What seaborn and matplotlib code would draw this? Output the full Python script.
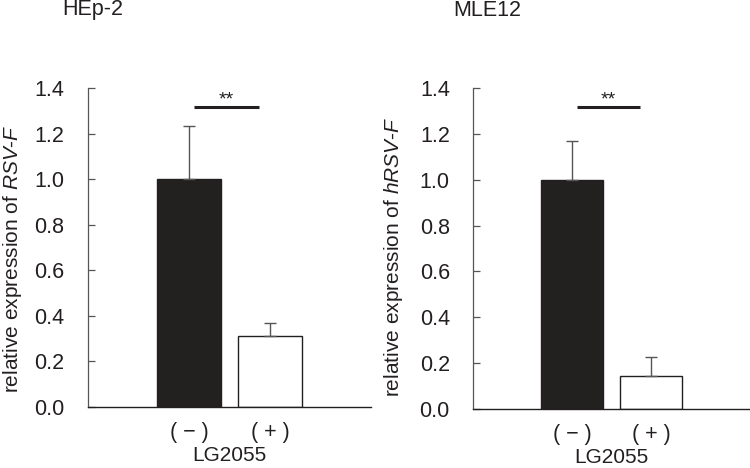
import matplotlib
matplotlib.use("Agg")
import matplotlib.pyplot as plt
import seaborn as sns

# data
groups = ["( − )", "( + )"]
hep2_mean = [1.00, 0.313]
hep2_err = [0.233, 0.054]
mle12_mean = [1.00, 0.143]
mle12_err = [0.170, 0.085]
sig_y = 1.317
yticks = [0.0, 0.2, 0.4, 0.6, 0.8, 1.0, 1.2, 1.4]

sns.set_style("white")
plt.rcParams["font.family"] = ["Liberation Sans", "DejaVu Sans"]
plt.rcParams["mathtext.fontset"] = "custom"
plt.rcParams["mathtext.it"] = "Liberation Sans:italic"
plt.rcParams["mathtext.rm"] = "Liberation Sans"

ink = "#231f20"
fs = 15.5
fig = plt.figure(figsize=(7.5, 4.68), dpi=100)
ax1 = fig.add_axes([0.1173, 0.1303, 0.3774, 0.6817])
ax2 = fig.add_axes([0.6313, 0.126, 0.3687, 0.686])


def panel(ax, means, errs, ylab, lab_xy):
    sns.barplot(x=groups, y=means, hue=groups, palette=[ink, "white"],
                edgecolor=ink, linewidth=1.0, width=0.79, legend=False, ax=ax)
    ax.errorbar([0, 1], means, yerr=[[0, 0], errs], fmt="none",
                ecolor="#555555", elinewidth=1.0, capsize=4, capthick=1.0)
    ax.set_xlim(-1.25, 2.25)
    ax.set_ylim(0, 1.4)
    ax.set_yticks(yticks)
    ax.set_yticklabels([f"{v:.1f}" for v in yticks])
    ax.tick_params(axis="y", direction="in", length=5, width=0.9,
                   color="#555555", labelsize=fs, labelcolor=ink, pad=17, left=True)
    ax.tick_params(axis="x", length=0, labelsize=fs, labelcolor=ink, pad=11)
    for s in ["top", "right"]:
        ax.spines[s].set_visible(False)
    ax.spines["left"].set_color("#555555")
    ax.spines["left"].set_linewidth(0.9)
    ax.spines["bottom"].set_color(ink)
    ax.spines["bottom"].set_linewidth(1.0)
    ax.set_ylabel(ylab, fontsize=15, color=ink, va="center")
    ax.yaxis.set_label_coords(*lab_xy)
    ax.set_xlabel("LG2055", fontsize=15, color=ink, labelpad=2)
    ax.plot([0.06, 0.86], [sig_y, sig_y], color=ink, lw=2.2, solid_capstyle="butt")
    ax.text(0.46, sig_y + 0.012, "**", ha="center", va="baseline", fontsize=14, color=ink)


panel(ax1, hep2_mean, hep2_err, r"relative expression of $\mathit{RSV}$-$\mathit{F}$", (-0.265, 0.464))
panel(ax2, mle12_mean, mle12_err, r"relative expression of $\mathit{hRSV}$-$\mathit{F}$", (-0.291, 0.475))

fig.text(62 / 750, 1 - 15 / 468, "HEp-2", fontsize=fs, color=ink, ha="left", va="baseline")
fig.text(453 / 750, 1 - 16 / 468, "MLE12", fontsize=fs, color=ink, ha="left", va="baseline")

fig.savefig("out.png", dpi=100)
